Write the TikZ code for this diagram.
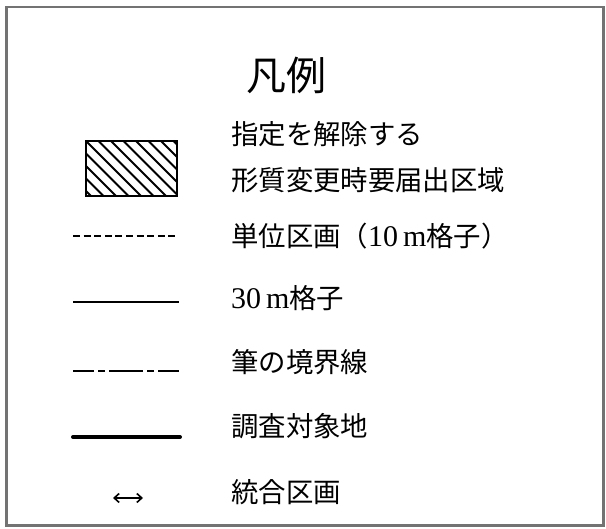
\documentclass[tikz,border=0pt]{standalone}
\usepackage{fontspec}
\setmainfont{Liberation Serif}
\newfontfamily\cjk{Noto Sans CJK JP}
\newcommand{\dig}[1]{{\fontsize{30}{32}\selectfont #1}}
\usetikzlibrary{arrows.meta}
\begin{document}
\begin{tikzpicture}[x=1pt,y=-1pt,
  lbl/.style={anchor=west,inner sep=0pt,font=\fontsize{27.4}{32}\selectfont},
  sym/.style={line width=2.2pt,black}]
\useasboundingbox (0,0) rectangle (606,529);
\draw[black!55,line width=2.6pt] (6.5,7) rectangle (603.5,525.5);
\node[inner sep=0pt,font=\fontsize{40}{44}\selectfont\cjk] (title) at (286,75) {凡例};
% hatched box
\coordinate (hb1) at (86,141);
\coordinate (hb2) at (177,196);
\begin{scope}
\clip (hb1) rectangle (hb2);
\foreach \i in {-6,...,9} {
  \draw[line width=2pt] (86+\i*12.5,141) -- ++(60,60);
}
\end{scope}
\draw[line width=2pt] (hb1) rectangle (hb2);
\node[lbl] (t1a) at (231,134) {\cjk 指定を解除する};
\node[lbl] (t1b) at (231,180) {\cjk 形質変更時要届出区域};
% dashed
\coordinate (d1) at (73,236); \coordinate (d2) at (179,236);
\draw[sym,dash pattern=on 7pt off 3.6pt] (d1) -- (d2);
\node[lbl] (t2) at (231,236) {{\cjk 単位区画（}\dig{10\,m}{\cjk 格子）}};
% solid
\coordinate (s1) at (73,302); \coordinate (s2) at (179,302);
\draw[sym,line width=2.4pt] (s1) -- (s2);
\node[lbl] (t3) at (231,298) {\dig{30\,m}{\cjk 格子}};
% dash-dot
\coordinate (dd1) at (73,371); \coordinate (dd2) at (179,371);
\draw[sym,dash pattern=on 34pt off 4pt on 7pt off 4pt,dash phase=13pt] (dd1) -- (dd2);
\node[lbl] (t4) at (231,362) {\cjk 筆の境界線};
% thick
\coordinate (k1) at (73,437); \coordinate (k2) at (180,437);
\draw[sym,line width=4pt,line cap=round] (k1) -- (k2);
\node[lbl] (t5) at (231,426) {\cjk 調査対象地};
% arrow
\coordinate (a1) at (113,498); \coordinate (a2) at (143,498);
\draw[line width=1.6pt,{Straight Barb[length=5pt,width=9pt]}-{Straight Barb[length=5pt,width=9pt]}] (a1) -- (a2);
\node[lbl] (t6) at (231,492) {\cjk 統合区画};
\end{tikzpicture}
\end{document}
